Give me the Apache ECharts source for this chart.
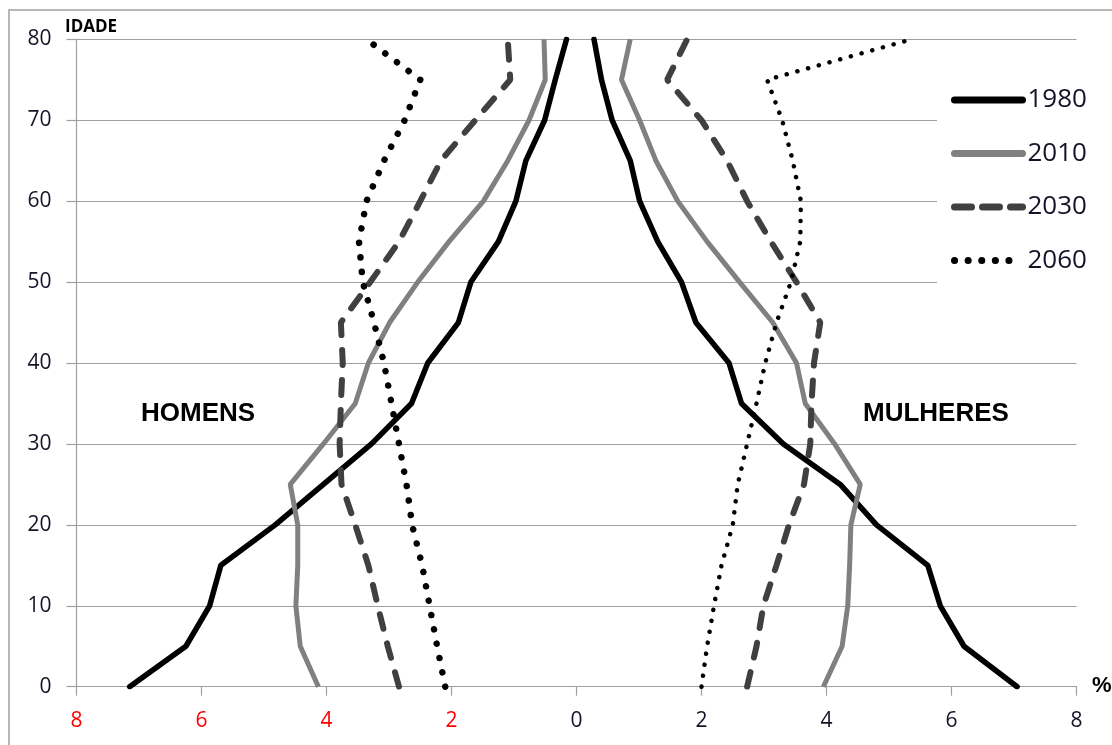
<!DOCTYPE html>
<html>
<head>
<meta charset="utf-8">
<script src="https://cdn.jsdelivr.net/npm/echarts@6/dist/echarts.min.js"></script>
<style>
html,body{margin:0;padding:0;background:#fff;}
#chart{width:1112px;height:745px;}
</style>
</head>
<body>
<div id="chart"></div>
<script>
// Age groups (y axis)
const ages = [0,5,10,15,20,25,30,35,40,45,50,55,60,65,70,75,80];
// Percent of population per age group (men drawn to the left)
const men1980   = [7.15,6.25,5.87,5.69,4.82,4.05,3.28,2.64,2.38,1.89,1.69,1.25,0.97,0.81,0.51,0.34,0.16];
const women1980 = [7.05,6.20,5.82,5.62,4.80,4.22,3.31,2.64,2.44,1.91,1.68,1.30,1.01,0.86,0.57,0.40,0.28];
const men2010   = [4.13,4.42,4.49,4.46,4.46,4.58,4.05,3.54,3.33,2.99,2.54,2.04,1.49,1.10,0.76,0.50,0.52];
const women2010 = [3.95,4.25,4.34,4.37,4.39,4.54,4.13,3.66,3.52,3.14,2.61,2.09,1.62,1.27,1.01,0.72,0.86];
const men2030   = [2.84,3.02,3.18,3.33,3.54,3.76,3.79,3.77,3.74,3.77,3.30,2.84,2.50,2.17,1.62,1.06,1.10];
const women2030 = [2.73,2.88,2.99,3.20,3.40,3.64,3.74,3.76,3.80,3.90,3.52,3.11,2.73,2.41,2.00,1.45,1.77];
const men2060   = [2.10,2.23,2.35,2.47,2.63,2.72,2.84,2.96,3.08,3.24,3.42,3.48,3.36,3.08,2.75,2.50,3.36];
const women2060 = [2.00,2.09,2.20,2.32,2.50,2.58,2.73,2.88,3.02,3.20,3.43,3.58,3.59,3.46,3.29,3.05,5.36];
const years = ['1980','2010','2030','2060'];

const styles = {
  '1980': {men:{color:'#000000', width:5.5, type:'solid', cap:'round'}, women:{color:'#000000', width:5.5, type:'solid', cap:'round'}},
  '2010': {men:{color:'#808080', width:5, type:'solid', cap:'butt'}, women:{color:'#808080', width:5, type:'solid', cap:'butt'}},
  '2030': {men:{color:'#404040', width:6, type:[15,15], cap:'round'}, women:{color:'#404040', width:6, type:[15,15], cap:'round'}},
  '2060': {men:{color:'#000000', width:6.5, type:[0.1,14.5], cap:'round'}, women:{color:'#000000', width:4.5, type:[0.1,11], cap:'round'}}
};
const legendLine = {
  '1980': {color:'#000000', width:7, type:'solid', cap:'round'},
  '2010': {color:'#808080', width:7, type:'solid', cap:'round'},
  '2030': {color:'#404040', width:7, type:[17,11], cap:'round'},
  '2060': {color:'#000000', width:7, type:[0.1,13.5], cap:'round'}
};
const menData = {'1980':men1980,'2010':men2010,'2030':men2030,'2060':men2060};
const womenData = {'1980':women1980,'2010':women2010,'2030':women2030,'2060':women2060};

const series = [];
years.forEach(function(y){
  series.push({
    name:y, type:'line', symbol:'none', silent:true,
    data: ages.map(function(a,i){return [-menData[y][i], a];}),
    itemStyle:{color:styles[y].men.color},
    lineStyle: styles[y].men, z:3
  });
});
years.forEach(function(y){
  series.push({
    name:y, type:'line', symbol:'none', silent:true,
    data: ages.map(function(a,i){return [womenData[y][i], a];}),
    itemStyle:{color:styles[y].women.color},
    lineStyle: styles[y].women, z:3
  });
});

const labelFont = "'Open Sans', 'Noto Sans', sans-serif";
const chart = echarts.init(document.getElementById('chart'), null, {renderer:'canvas'});
chart.setOption({
  animation:false,
  backgroundColor:'#ffffff',
  grid:{left:76.5, right:35.5, top:39.3, bottom:58.3, containLabel:false},
  xAxis:{
    type:'value', min:-8, max:8, interval:2,
    axisLine:{show:true, onZero:false, lineStyle:{color:'#a0a0a0', width:1.2}},
    axisTick:{show:true, length:9, lineStyle:{color:'#a0a0a0', width:1.2}},
    splitLine:{show:false},
    axisLabel:{
      margin:24,
      formatter:function(v){ return v < 0 ? '{r|' + (-v) + '}' : '{b|' + v + '}'; },
      rich:{
        r:{color:'#ff0000', fontSize:21, fontFamily:labelFont},
        b:{color:'#141428', fontSize:21, fontFamily:labelFont}
      }
    }
  },
  yAxis:{
    type:'value', min:0, max:80, interval:10,
    axisLine:{show:true, onZero:false, lineStyle:{color:'#a0a0a0', width:1.2}},
    axisTick:{show:true, length:10, lineStyle:{color:'#a0a0a0', width:1.2}},
    splitLine:{show:true, lineStyle:{color:'#a0a0a0', width:1.2}},
    axisLabel:{margin:25, color:'#141428', fontSize:21, fontFamily:labelFont}
  },
  legend:{
    data: years.map(function(y){
      return {name:y, itemStyle:{opacity:0}, lineStyle:legendLine[y]};
    }),
    orient:'vertical', left:937, top:44,
    itemWidth:68, itemHeight:20, itemGap:27.5,
    padding:[43,12,88,14], backgroundColor:'#ffffff',
    selectedMode:false, z:5,
    textStyle:{fontSize:26, fontFamily:labelFont, color:'#141428'}
  },
  graphic:[
    {type:'rect', silent:true, z:-1, shape:{x:9, y:10, width:1300, height:900}, style:{fill:'none', stroke:'#a0a0a0', lineWidth:1.5}},
    {type:'text', silent:true, left:65, top:19, style:{text:'IDADE', font:"bold 17px 'Open Sans', sans-serif", fill:'#000'}},
    {type:'text', silent:true, left:141, top:401, style:{text:'HOMENS', font:"bold 26px 'Liberation Sans', Arial, sans-serif", fill:'#000'}},
    {type:'text', silent:true, left:863, top:401, style:{text:'MULHERES', font:"bold 26px 'Liberation Sans', Arial, sans-serif", fill:'#000'}},
    {type:'text', silent:true, left:1092, top:675, style:{text:'%', font:"bold 22px 'Liberation Sans', Arial, sans-serif", fill:'#000'}}
  ],
  series:series
});
</script>
</body>
</html>
